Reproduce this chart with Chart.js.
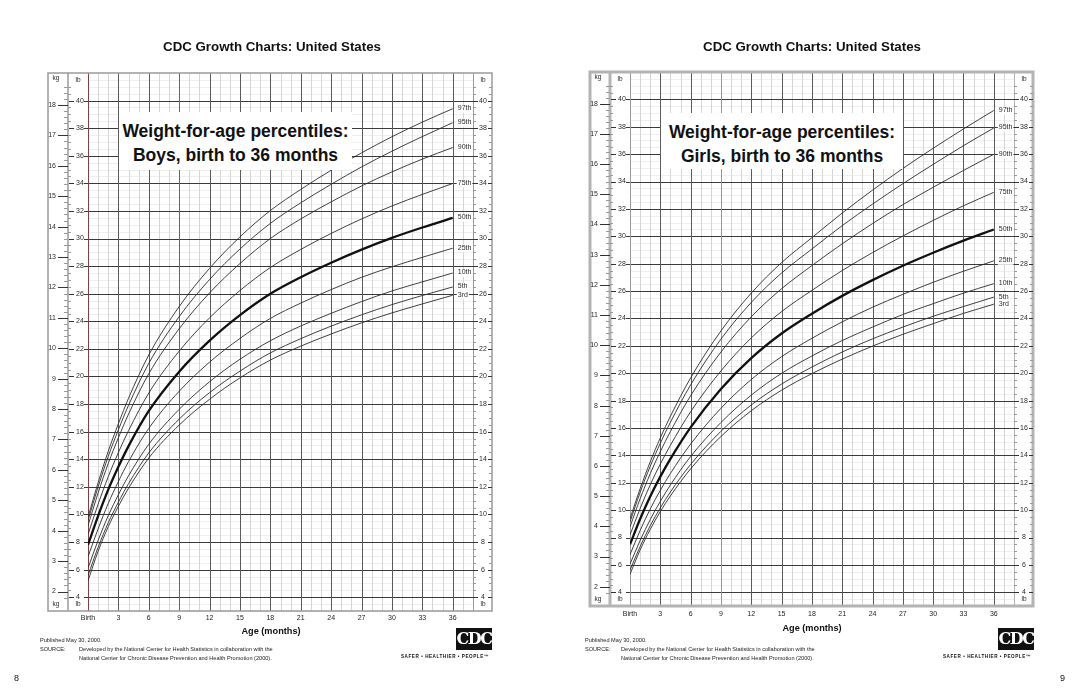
<!DOCTYPE html>
<html>
<head>
<meta charset="utf-8">
<script src="https://cdn.jsdelivr.net/npm/chart.js@4.4.1/dist/chart.umd.min.js"></script>
<style>
  html, body { margin: 0; padding: 0; background: #fff; }
  body { width: 1080px; height: 698px; position: relative; overflow: hidden;
         font-family: "Liberation Sans", Arial, Helvetica, sans-serif; color: #111; }
  canvas { position: absolute; top: 0; }
  .abs { position: absolute; white-space: nowrap; }
  .head { font-weight: bold; font-size: 13.3px; transform: translate(-50%, -50%); }
  .titlebox { position: absolute; background: #fff; font-weight: bold; font-size: 17.5px;
              line-height: 24px; text-align: center; padding-top: 7px; box-sizing: border-box; }
  .axis { font-weight: bold; font-size: 9.2px; transform: translate(-50%, -50%); }
  .note { font-size: 5.6px; color: #222; line-height: 9px; }
  .logo { position: absolute; background: #111; color: #fff; font-family: "DejaVu Serif", "Liberation Serif", serif;
          font-weight: bold; font-size: 16px; text-align: center; line-height: 22px; letter-spacing: -1.5px; }
  .tag { font-size: 4.6px; font-weight: bold; letter-spacing: 0.55px; }
  .page { font-size: 9px; }
</style>
</head>
<body>
<canvas id="boys" width="540" height="698" style="left:0"></canvas>
<canvas id="girls" width="540" height="698" style="left:540px"></canvas>

<div class="abs head" style="left:272px; top:46px">CDC Growth Charts: United States</div>
<div class="abs head" style="left:812px; top:46px">CDC Growth Charts: United States</div>

<div class="titlebox" style="left:119px; top:112px; width:233px; height:58px">Weight-for-age percentiles:<br>Boys, birth to 36 months</div>
<div class="titlebox" style="left:661px; top:113px; width:242px; height:56px">Weight-for-age percentiles:<br>Girls, birth to 36 months</div>

<div class="abs axis" style="left:271px; top:631px">Age (months)</div>
<div class="abs axis" style="left:812px; top:628px">Age (months)</div>

<div class="abs note" style="left:40px; top:636px">Published May 30, 2000.</div>
<div class="abs note" style="left:40px; top:645px">SOURCE:</div>
<div class="abs note" style="left:79px; top:645px">Developed by the National Center for Health Statistics in collaboration with the<br>National Center for Chronic Disease Prevention and Health Promotion (2000).</div>

<div class="abs note" style="left:585px; top:636px">Published May 30, 2000.</div>
<div class="abs note" style="left:585px; top:645px">SOURCE:</div>
<div class="abs note" style="left:621px; top:645px">Developed by the National Center for Health Statistics in collaboration with the<br>National Center for Chronic Disease Prevention and Health Promotion (2000).</div>

<div class="logo" style="left:456px; top:628px; width:36px; height:22px">CDC</div>
<div class="abs tag" style="left:401px; top:654px">SAFER • HEALTHIER • PEOPLE™</div>
<div class="logo" style="left:998px; top:628px; width:36px; height:22px">CDC</div>
<div class="abs tag" style="left:943px; top:654px">SAFER • HEALTHIER • PEOPLE™</div>

<div class="abs page" style="left:14px; top:673px">8</div>
<div class="abs page" style="left:1060px; top:673px">9</div>

<script>
// age in months for every curve point
const months = [0, 1, 2, 3, 4, 6, 9, 12, 15, 18, 21, 24, 27, 30, 33, 36];

// boys, weight in lb
const boys3  = [5.19, 7.33, 9.11, 10.59, 11.90, 14.09, 16.48, 18.35, 19.90, 21.19, 22.20, 23.08, 23.89, 24.61, 25.26, 25.89];
const boys5  = [5.57, 7.62, 9.40, 10.89, 12.23, 14.46, 16.91, 18.83, 20.39, 21.71, 22.74, 23.65, 24.47, 25.21, 25.87, 26.49];
const boys10 = [6.11, 8.12, 9.91, 11.43, 12.80, 15.09, 17.62, 19.62, 21.25, 22.59, 23.66, 24.58, 25.43, 26.20, 26.86, 27.50];
const boys25 = [6.94, 8.96, 10.80, 12.39, 13.83, 16.24, 18.93, 21.04, 22.76, 24.21, 25.32, 26.30, 27.19, 27.95, 28.64, 29.30];
const boys50 = [7.80, 9.90, 11.80, 13.45, 14.95, 17.50, 20.35, 22.60, 24.45, 26.00, 27.20, 28.25, 29.20, 30.05, 30.80, 31.50];
const boys75 = [8.55, 10.75, 12.74, 14.49, 16.07, 18.80, 21.84, 24.25, 26.23, 27.90, 29.21, 30.37, 31.42, 32.36, 33.20, 33.99];
const boys90 = [9.20, 11.56, 13.70, 15.56, 17.27, 20.20, 23.46, 26.06, 28.19, 30.00, 31.42, 32.66, 33.81, 34.83, 35.76, 36.60];
const boys95 = [9.57, 12.00, 14.21, 16.14, 17.91, 20.95, 24.34, 27.03, 29.24, 31.10, 32.59, 33.93, 35.19, 36.33, 37.39, 38.40];
const boys97 = [9.80, 12.31, 14.58, 16.58, 18.42, 21.56, 25.07, 27.84, 30.12, 32.03, 33.56, 34.95, 36.21, 37.38, 38.44, 39.41];

// girls, weight in lb
const girls3  = [5.32, 7.09, 8.59, 9.90, 11.04, 13.02, 15.38, 17.26, 18.76, 19.97, 21.03, 21.98, 22.84, 23.62, 24.37, 25.04];
const girls5  = [5.62, 7.34, 8.86, 10.17, 11.33, 13.34, 15.76, 17.68, 19.21, 20.45, 21.55, 22.51, 23.37, 24.16, 24.87, 25.56];
const girls10 = [6.06, 7.78, 9.31, 10.64, 11.84, 13.92, 16.40, 18.40, 19.99, 21.26, 22.39, 23.37, 24.29, 25.08, 25.85, 26.54];
const girls25 = [6.75, 8.51, 10.08, 11.45, 12.68, 14.83, 17.44, 19.54, 21.21, 22.55, 23.75, 24.82, 25.76, 26.64, 27.45, 28.21];
const girls50 = [7.50, 9.35, 11.00, 12.45, 13.75, 16.05, 18.85, 21.10, 22.90, 24.35, 25.65, 26.80, 27.85, 28.80, 29.68, 30.50];
const girls75 = [8.19, 10.12, 11.85, 13.37, 14.74, 17.19, 20.17, 22.58, 24.50, 26.05, 27.50, 28.81, 30.02, 31.16, 32.23, 33.21];
const girls90 = [8.78, 10.83, 12.66, 14.28, 15.74, 18.36, 21.55, 24.12, 26.17, 27.86, 29.45, 30.93, 32.31, 33.58, 34.81, 35.99];
const girls95 = [9.14, 11.29, 13.20, 14.89, 16.42, 19.15, 22.49, 25.17, 27.32, 29.07, 30.78, 32.35, 33.84, 35.25, 36.62, 37.91];
const girls97 = [9.37, 11.56, 13.53, 15.28, 16.86, 19.66, 23.09, 25.85, 28.08, 29.90, 31.70, 33.37, 34.95, 36.43, 37.84, 39.19];

const percentileNames = ['3rd', '5th', '10th', '25th', '50th', '75th', '90th', '95th', '97th'];

// tick labels
const ageTickMonths = [0, 3, 6, 9, 12, 15, 18, 21, 24, 27, 30, 33, 36];
const ageTickLabels = ['Birth', '3', '6', '9', '12', '15', '18', '21', '24', '27', '30', '33', '36'];
const lbTicks = [4, 6, 8, 10, 12, 14, 16, 18, 20, 22, 24, 26, 28, 30, 32, 34, 36, 38, 40];
const kgTicks = [2, 3, 4, 5, 6, 7, 8, 9, 10, 11, 12, 13, 14, 15, 16, 17, 18];

const LB_PER_KG = 2.20462;
const FONT = '"Liberation Sans", Arial, Helvetica, sans-serif';

// grid paper, side rulers and percentile labels
function paperPlugin(opts) {
    return {
        id: 'paper',
        beforeDatasetsDraw(chart) {
            const ctx = chart.ctx;
            const a = chart.chartArea;
            const xs = chart.scales.x, ys = chart.scales.y;
            const boxL = a.left - 40, colL = a.left - 20, boxR = a.right + 19;
            const px = v => Math.round(v) + 0.5;

            function hline(y, x1, x2) { ctx.beginPath(); ctx.moveTo(x1, px(y)); ctx.lineTo(x2, px(y)); ctx.stroke(); }
            function vline(x, y1, y2) { ctx.beginPath(); ctx.moveTo(px(x), y1); ctx.lineTo(px(x), y2); ctx.stroke(); }

            ctx.save();
            ctx.lineWidth = 1;

            // light half-pound rows
            ctx.strokeStyle = '#efefef';
            for (let v = 3; v <= 42; v += 0.5) {
                if (v % 2 === 0) continue;
                hline(ys.getPixelForValue(v), a.left, a.right);
            }
            // month columns
            ctx.strokeStyle = '#d6d6d6';
            for (let m = 1; m < 38; m++) {
                if (m % 3 === 0) continue;
                vline(xs.getPixelForValue(m), a.top, a.bottom);
            }
            // every 2 lb
            ctx.strokeStyle = '#3a3a3a';
            lbTicks.forEach(v => hline(ys.getPixelForValue(v), colL + 16, a.right));
            // every 3 months
            for (let m = 3; m <= 36; m += 3) {
                ctx.strokeStyle = m === 9 ? opts.nineColor : '#5c5c5c';
                vline(xs.getPixelForValue(m), a.top, a.bottom);
            }
            ctx.strokeStyle = opts.birthColor;
            vline(a.left, a.top, a.bottom);
            ctx.strokeStyle = opts.frameColor;
            vline(a.right, a.top, a.bottom);

            // frame and the kg/lb divider
            ctx.lineWidth = opts.frameWidth;
            ctx.strokeStyle = opts.frameColor;
            ctx.strokeRect(boxL, a.top, boxR - boxL, a.bottom - a.top);
            ctx.beginPath(); ctx.moveTo(colL, a.top); ctx.lineTo(colL, a.bottom); ctx.stroke();

            // kg ruler
            ctx.lineWidth = 1;
            ctx.strokeStyle = '#9a9a9a';
            for (let k = 1.4; k <= 19; k += 0.2) {
                const y = ys.getPixelForValue(k * LB_PER_KG);
                if (y < a.top + 8 || y > a.bottom - 10) continue;
                hline(y, colL - 4, colL);
            }
            // lb minor ticks
            for (let v = 3.5; v <= 41.5; v += 0.5) {
                if (v % 2 === 0) continue;
                const y = ys.getPixelForValue(v);
                if (y < a.top + 9 || y > a.bottom - 10) continue;
                hline(y, colL, colL + 3);
                hline(y, a.right, a.right + 3);
                hline(y, boxR - 3, boxR);
            }

            ctx.fillStyle = '#2a2a2a';
            ctx.font = '7px ' + FONT;
            ctx.textBaseline = 'middle';
            ctx.strokeStyle = '#333';
            kgTicks.forEach(k => {
                const y = ys.getPixelForValue(k * LB_PER_KG);
                hline(y, colL - 10, colL);
                ctx.textAlign = 'right';
                ctx.fillText(String(k), colL - 12, y);
            });
            lbTicks.forEach(v => {
                const y = ys.getPixelForValue(v);
                hline(y, colL + 1, colL + 6);
                ctx.textAlign = 'left';
                ctx.fillText(String(v), colL + 8, y);
                hline(y, a.right, a.right + 5);
                hline(y, boxR - 4, boxR);
                ctx.textAlign = 'center';
                ctx.fillText(String(v), a.right + 10, y);
            });

            // unit words
            ctx.font = '6.5px ' + FONT;
            ctx.textAlign = 'center';
            ctx.fillText('kg', boxL + 8, a.top + 5);
            ctx.fillText('lb', colL + 10, a.top + 7);
            ctx.fillText('lb', a.right + 10, a.top + 7);
            ctx.fillText('kg', boxL + 8, a.bottom - 7);
            ctx.fillText('lb', colL + 10, a.bottom - 7);
            ctx.fillText('lb', a.right + 10, a.bottom - 7);

            // age labels
            ctx.font = '7px ' + FONT;
            ctx.fillStyle = '#222';
            ageTickMonths.forEach((m, i) => {
                ctx.fillText(ageTickLabels[i], xs.getPixelForValue(m), a.bottom + opts.ageGap);
            });
            ctx.restore();
        },
        afterDatasetsDraw(chart) {
            const ctx = chart.ctx;
            ctx.save();
            ctx.font = '7px ' + FONT;
            ctx.textAlign = 'left';
            ctx.textBaseline = 'middle';
            chart.data.datasets.forEach((ds, i) => {
                const pts = chart.getDatasetMeta(i).data;
                const last = pts[pts.length - 1];
                const w = ctx.measureText(ds.label).width;
                ctx.fillStyle = '#fff';
                ctx.fillRect(last.x + 4, last.y - 4, w + 2, 8);
                ctx.fillStyle = '#2a2a2a';
                ctx.fillText(ds.label, last.x + 5, last.y - 0.5);
            });
            ctx.restore();
        }
    };
}

function makeChart(id, series, pad, opts) {
    const datasets = series.map((vals, i) => ({
        label: percentileNames[i],
        data: months.map((m, j) => ({ x: m, y: vals[j] })),
        borderColor: i === 4 ? '#111' : '#2b2b2b',
        borderWidth: i === 4 ? 2.3 : 0.9,
        pointRadius: 0,
        fill: false,
        cubicInterpolationMode: 'monotone'
    }));
    return new Chart(document.getElementById(id), {
        type: 'line',
        data: { datasets },
        options: {
            responsive: false,
            animation: false,
            devicePixelRatio: 1,
            layout: { padding: pad },
            scales: {
                x: { type: 'linear', min: 0, max: 38, display: false },
                y: { type: 'linear', min: 3, max: 42, display: false }
            },
            plugins: { legend: { display: false }, tooltip: { enabled: false } }
        },
        plugins: [paperPlugin(opts)]
    });
}

makeChart('boys',
    [boys3, boys5, boys10, boys25, boys50, boys75, boys90, boys95, boys97],
    { left: 88, right: 67, top: 73, bottom: 87 },
    { nineColor: '#8e5555', birthColor: '#7e4040', frameColor: '#9a9a9a', frameWidth: 1.5, ageGap: 7 });

makeChart('girls',
    [girls3, girls5, girls10, girls25, girls50, girls75, girls90, girls95, girls97],
    { left: 90, right: 66, top: 72, bottom: 92 },
    { nineColor: '#c98080', birthColor: '#9a9a9a', frameColor: '#b3b3b3', frameWidth: 3, ageGap: 8 });
</script>
</body>
</html>
